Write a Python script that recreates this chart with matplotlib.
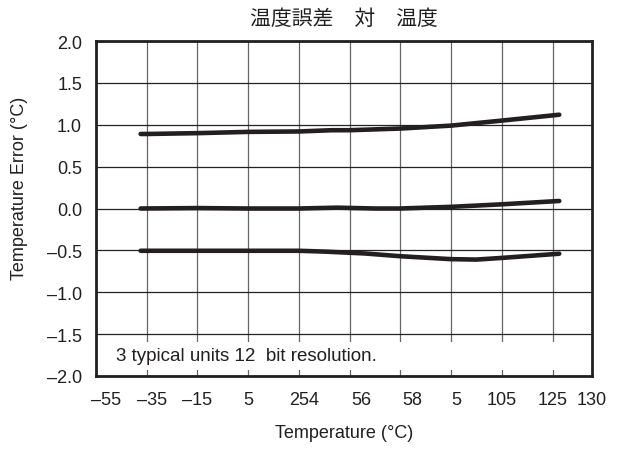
import matplotlib
matplotlib.use("Agg")
import matplotlib.pyplot as plt
from matplotlib.patches import Rectangle

# Temperature error of three typical units across the operating range
temp_upper = [-37.4, -35, -15, 5, 25, 38, 45, 65, 85, 105, 127.6]
err_upper = [0.89, 0.89, 0.90, 0.915, 0.92, 0.935, 0.935, 0.955, 0.99, 1.05, 1.12]

temp_mid = [-37.4, -15, 5, 25, 40, 55, 65, 85, 105, 127.6]
err_mid = [0.0, 0.005, 0.0, 0.0, 0.01, 0.0, 0.0, 0.02, 0.05, 0.09]

temp_low = [-37.4, -15, 5, 25, 35.5, 51, 65, 85, 95, 105, 127.6]
err_low = [-0.505, -0.505, -0.505, -0.505, -0.515, -0.537, -0.57, -0.605, -0.61, -0.59, -0.54]

grid_x = [-35, -15, 5, 25, 45, 65, 85, 105, 125]
x_labels = ["–55", "–35", "–15", "5", "254", "56", "58", "5", "105", "125", "130"]
label_pos = [-51, -33, -15, 5, 27, 49.5, 69.5, 87, 105, 125, 140.5]
y_ticks = [-2.0, -1.5, -1.0, -0.5, 0.0, 0.5, 1.0, 1.5, 2.0]
y_labels = ["–2.0", "–1.5", "–1.0", "–0.5", "0.0", "0.5", "1.0", "1.5", "2.0"]

title = "温度誤差　対　温度"
note = "3 typical units 12  bit resolution."

ink = "#231f20"
plt.rcParams["font.family"] = ["Liberation Sans", "DejaVu Sans"]

fig = plt.figure(figsize=(6.34, 4.52), dpi=100)
ax = fig.add_axes([0.1514, 0.166, 0.7823, 0.741])

ax.set_xlim(-55, 136.3)
ax.set_ylim(-2.0, 2.0)

# grid
for gx in grid_x:
    ax.axvline(gx, color="#666666", lw=0.9, zorder=0.5)
for gy in y_ticks:
    ax.axhline(gy, color="#222222", lw=0.9, zorder=0.5)

# blank band holding the note
ax.add_patch(Rectangle((-55, -1.93), 191.3, 0.335, facecolor="white",
                       edgecolor="none", zorder=1))
ax.text(-47, -1.76, note, fontsize=13.5, va="center", ha="left", color=ink, zorder=3)

for xs, ys in [(temp_upper, err_upper), (temp_mid, err_mid), (temp_low, err_low)]:
    ax.plot(xs, ys, color=ink, lw=3.3, solid_capstyle="round",
            solid_joinstyle="round", zorder=2)

ax.set_xticks(label_pos)
ax.set_xticklabels(x_labels)
ax.set_yticks(y_ticks)
ax.set_yticklabels(y_labels)
ax.tick_params(axis="both", length=0, labelsize=13, colors=ink)
ax.tick_params(axis="x", pad=11)
ax.tick_params(axis="y", pad=10)

for s in ax.spines.values():
    s.set_linewidth(2.0)
    s.set_color(ink)

ax.set_xlabel("Temperature (°C)", fontsize=13, color=ink, labelpad=11)
ax.set_ylabel("Temperature Error (°C)", fontsize=13, color=ink)
ax.yaxis.set_label_coords(-0.137, 0.564)
ax.set_title(title, fontsize=15, color=ink, pad=12,
             family=["Noto Sans CJK JP", "DejaVu Sans"])

fig.savefig("out.png", dpi=100)
